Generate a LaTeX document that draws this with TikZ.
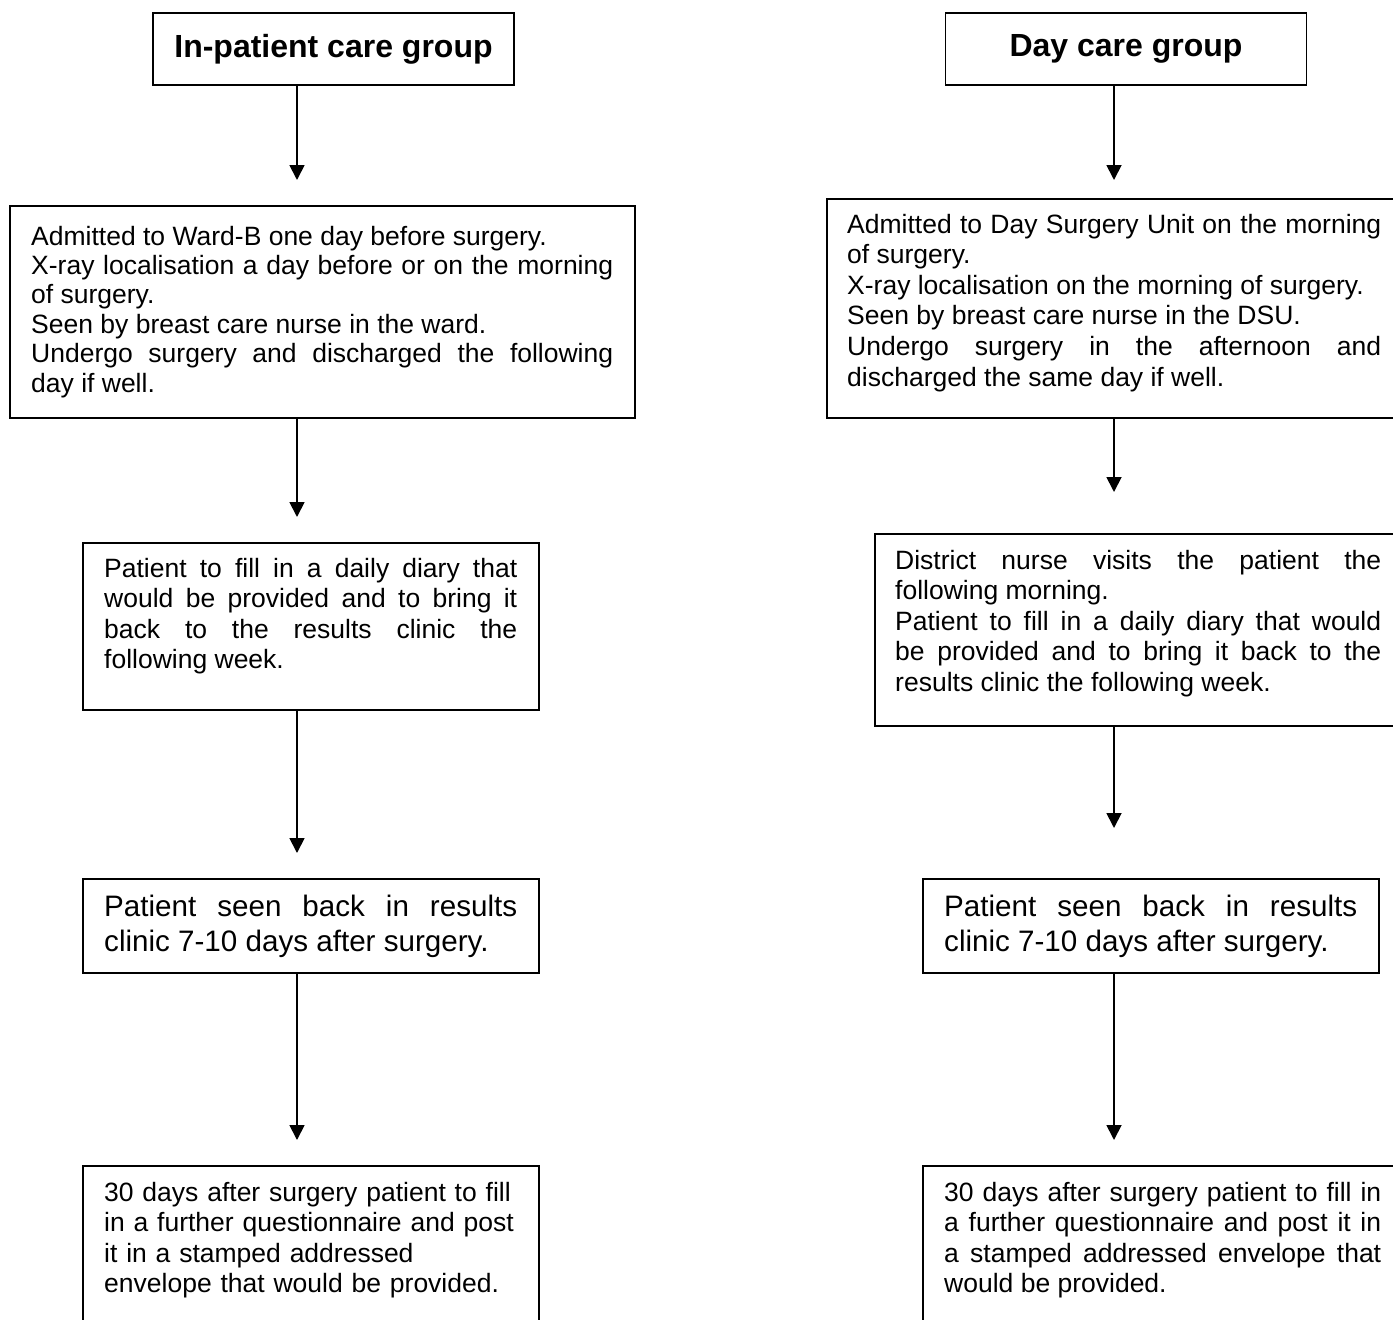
\documentclass[tikz,border=0pt]{standalone}
\usepackage{fontspec}
\setmainfont{Liberation Sans}
\usetikzlibrary{arrows.meta}
\tolerance=10000
\hbadness=10000
\hyphenpenalty=10000
\exhyphenpenalty=10000
\begin{document}
\begin{tikzpicture}[x=1pt,y=-1pt,
  bx/.style={draw,line width=1.8pt,rectangle,anchor=north west,inner sep=0pt},
  ttl/.style={draw,line width=1.8pt,rectangle,inner sep=0pt,minimum width=361pt,minimum height=72pt,font=\fontsize{32}{38}\selectfont\bfseries},
  txt/.style={anchor=base west,inner sep=0pt,align=justify,font=\fontsize{26.5}{30.6}\selectfont},
  bigtxt/.style={anchor=base west,inner sep=0pt,align=justify,font=\fontsize{29.6}{35}\selectfont},
  arr/.style={line width=1.8pt,-{Triangle[length=15pt,width=15pt]}}]
\useasboundingbox (0,0) rectangle (1393,1320);
\clip (0,0) rectangle (1393,1320);

% ---------- left column ----------
\node[ttl] (L1) at (333.5,49) {In-patient care group};

\node[bx,minimum width=625pt,minimum height=212pt] (L2) at (9,205) {};
\node[txt,text width=582pt,font=\fontsize{26.5}{29.4}\selectfont] (tL2) at (31,245) {Admitted to Ward-B one day before surgery.\par
X-ray localisation a day before or on the morning\linebreak of surgery.\par
Seen by breast care nurse in the ward.\par
Undergo surgery and discharged the following\linebreak day if well.};

\node[bx,minimum width=456pt,minimum height=167pt] (L3) at (82,542) {};
\node[txt,text width=413pt] (tL3) at (104,577) {Patient to fill in a daily diary that\linebreak would be provided and to bring it\linebreak back to the results clinic the\linebreak following week.};

\node[bx,minimum width=456pt,minimum height=94pt] (L4) at (82,878) {};
\node[bigtxt,text width=413pt] (tL4) at (104,916) {Patient seen back in results\linebreak clinic 7-10 days after surgery.};

\node[bx,minimum width=456pt,minimum height=180pt] (L5) at (82,1165) {};
\node[txt,text width=413pt,align=left] (tL5) at (104,1201) {30 days after surgery patient to fill\\
in a further questionnaire and post\\
it in a stamped addressed\\
envelope that would be provided.};

\coordinate (aL1) at (297,180);
\coordinate (aL2) at (297,517);
\coordinate (aL3) at (297,853);
\coordinate (aL4) at (297,1140);
\draw[arr] (L1.south -| aL1) -- (aL1);
\draw[arr] (L2.south -| aL2) -- (aL2);
\draw[arr] (L3.south -| aL3) -- (aL3);
\draw[arr] (L4.south -| aL4) -- (aL4);

% ---------- right column ----------
\node[ttl] (R1) at (1126,49) {Day care group};

\node[bx,minimum width=590pt,minimum height=219pt] (R2) at (826,198) {};
\node[txt,text width=534pt] (tR2) at (847,233) {Admitted to Day Surgery Unit on the morning\linebreak of surgery.\par
X-ray localisation on the morning of surgery.\par
Seen by breast care nurse in the DSU.\par
Undergo surgery in the afternoon and\linebreak discharged the same day if well.};

\node[bx,minimum width=540pt,minimum height=192pt] (R3) at (874,533) {};
\node[txt,text width=486pt] (tR3) at (895,569) {District nurse visits the patient the\linebreak following morning.\par
Patient to fill in a daily diary that would\linebreak be provided and to bring it back to the\linebreak results clinic the following week.};

\node[bx,minimum width=456pt,minimum height=94pt] (R4) at (922,878) {};
\node[bigtxt,text width=413pt] (tR4) at (944,916) {Patient seen back in results\linebreak clinic 7-10 days after surgery.};

\node[bx,minimum width=482pt,minimum height=180pt] (R5) at (922,1165) {};
\node[txt,text width=437pt] (tR5) at (944,1201) {30 days after surgery patient to fill in\linebreak a further questionnaire and post it in\linebreak a stamped addressed envelope that\linebreak would be provided.};

\coordinate (aR1) at (1114,180);
\coordinate (aR2) at (1114,492);
\coordinate (aR3) at (1114,828);
\coordinate (aR4) at (1114,1140);
\draw[arr] (R1.south -| aR1) -- (aR1);
\draw[arr] (R2.south -| aR2) -- (aR2);
\draw[arr] (R3.south -| aR3) -- (aR3);
\draw[arr] (R4.south -| aR4) -- (aR4);
\end{tikzpicture}
\end{document}
